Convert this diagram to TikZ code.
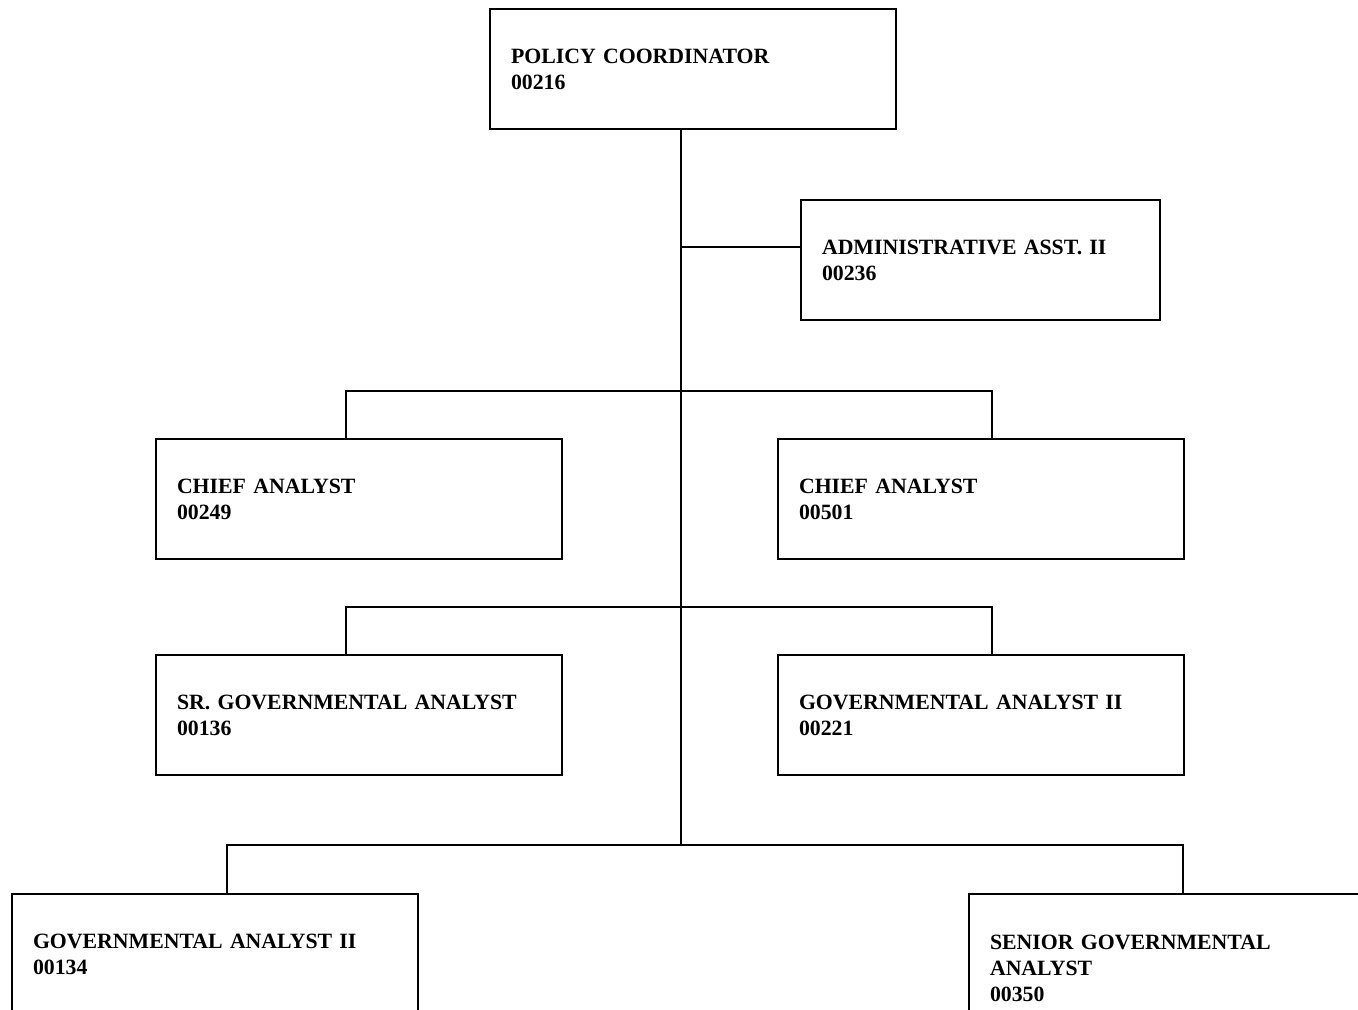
\documentclass[tikz,border=0pt]{standalone}
\usepackage{fontspec}
\setmainfont{Liberation Serif}
\begin{document}
\begin{tikzpicture}[x=0.5pt,y=-0.5pt,
  post/.style={draw=black, line width=1pt, rectangle, anchor=north west,
    inner xsep=10.5pt, inner ysep=0pt, align=left,
    font=\fontsize{10.9}{13}\selectfont\bfseries},
  w203/.style={minimum width=203pt, text width=182pt},
  link/.style={draw=black, line width=0.8pt}]
\useasboundingbox (0,0) rectangle (1358,1009);
\clip (0,0) rectangle (1358,1009);

% positions
\node[post, w203, minimum height=60pt] (coord) at (489,8) {POLICY COORDINATOR\\00216};
\node[post, minimum width=179.5pt, text width=158.5pt, minimum height=60pt] (admin) at (800,199) {ADMINISTRATIVE ASST. II\\00236};
\node[post, w203, minimum height=60pt] (chiefA) at (155,438) {CHIEF ANALYST\\00249};
\node[post, w203, minimum height=60pt] (chiefB) at (777,438) {CHIEF ANALYST\\00501};
\node[post, w203, minimum height=60pt] (srgov) at (155,654) {SR. GOVERNMENTAL ANALYST\\00136};
\node[post, w203, minimum height=60pt] (govA) at (777,654) {GOVERNMENTAL ANALYST II\\00221};
\node[post, w203, minimum height=60pt] (govB) at (11,893) {GOVERNMENTAL ANALYST II\\00134};
\node[post, w203, minimum height=74pt] (sgov) at (968,893) {SENIOR GOVERNMENTAL\\ANALYST\\00350};

% junction points
\coordinate (jadm) at (681,247);
\coordinate (j1) at (681,391);
\coordinate (j1a) at (346,391);
\coordinate (j1b) at (992,391);
\coordinate (j2a) at (346,607);
\coordinate (j2b) at (992,607);
\coordinate (j3) at (681,845);
\coordinate (j3a) at (227,845);
\coordinate (j3b) at (1183,845);

% trunk and branches
\draw[link] (coord.south -| j3) -- (j3);
\draw[link] (jadm) -- (jadm -| admin.west);
\draw[link] (chiefA.north -| j1a) -- (j1a) -- (j1b) -- (chiefB.north -| j1b);
\draw[link] (srgov.north -| j2a) -- (j2a) -- (j2b) -- (govA.north -| j2b);
\draw[link] (govB.north -| j3a) -- (j3a) -- (j3b) -- (sgov.north -| j3b);
\end{tikzpicture}
\end{document}
